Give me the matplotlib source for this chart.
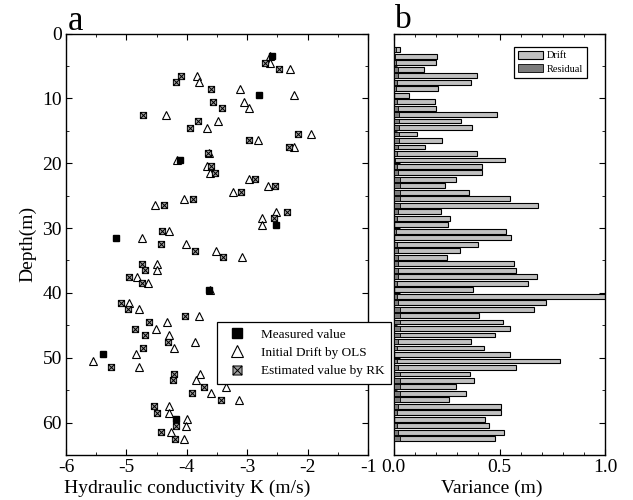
import matplotlib
matplotlib.use("Agg")
import matplotlib.pyplot as plt
import numpy as np
from matplotlib.path import Path
from matplotlib.ticker import MultipleLocator

plt.rcParams['font.family'] = ['Liberation Serif', 'DejaVu Serif']
plt.rcParams['axes.unicode_minus'] = False

# panel a: measured K, OLS drift and RK estimate vs depth
measured_depth = [3.5, 9.5, 19.5, 29.5, 31.5, 39.5, 49.5, 59.5]
measured_k = [-2.59, -2.80, -4.12, -2.53, -5.18, -3.63, -5.39, -4.18]

drift_depth = [3.5, 4.5, 5.5, 6.5, 7.5, 8.5, 9.5, 10.5, 11.5, 12.5, 13.5, 14.5, 15.5,
               16.5, 17.5, 18.5, 19.5, 20.5, 21.5, 22.5, 23.5, 24.5, 25.5, 26.5, 27.5,
               28.5, 29.5, 30.5, 31.5, 32.5, 33.5, 34.5, 35.5, 36.5, 37.5, 38.5, 39.5,
               41.5, 42.5, 43.5, 44.5, 45.5, 46.5, 47.5, 48.5, 49.5, 50.5, 51.5, 52.5,
               53.5, 54.5, 55.5, 56.5, 57.5, 58.5, 59.5, 60.5, 61.5, 62.5]
drift_k = [-2.63, -2.63, -2.30, -3.83, -3.80, -3.12, -2.22, -3.05, -2.97, -4.34, -3.49, -3.67, -1.95,
           -2.82, -2.22, -3.63, -4.17, -3.67, -3.62, -2.97, -2.65, -3.24, -4.04, -4.53, -2.52,
           -2.76, -2.76, -4.29, -4.75, -4.02, -3.52, -3.09, -4.50, -4.50, -4.82, -4.64, -3.61,
           -4.96, -4.79, -3.80, -4.33, -4.51, -4.29, -3.86, -4.22, -4.84, -5.56, -4.79, -3.79,
           -3.85, -3.35, -3.60, -3.14, -4.30, -4.29, -3.99, -4.01, -4.27, -4.05]

rk_depth = [4.5, 5.5, 6.5, 7.5, 8.5, 10.5, 11.5, 12.5, 13.5, 14.5, 15.5, 16.5, 17.5, 18.5,
            20.5, 21.5, 22.5, 23.5, 24.5, 25.5, 26.5, 27.5, 28.5, 30.5, 32.5, 33.5, 34.5,
            35.5, 36.5, 37.5, 38.5, 41.5, 42.5, 43.5, 44.5, 45.5, 46.5, 47.5, 48.5, 51.5,
            52.5, 53.5, 54.5, 55.5, 56.5, 57.5, 58.5, 60.5, 61.5, 62.5]
rk_k = [-2.70, -2.47, -4.09, -4.18, -3.60, -3.56, -3.42, -4.73, -3.82, -3.94, -2.16, -2.97, -2.31, -3.65,
        -3.60, -3.53, -2.87, -2.54, -3.11, -3.90, -4.37, -2.34, -2.56, -4.41, -4.42, -3.86, -3.40,
        -4.75, -4.69, -4.96, -4.74, -5.09, -4.98, -4.03, -4.63, -4.85, -4.69, -4.31, -4.73, -5.26,
        -4.22, -4.23, -3.71, -3.92, -3.43, -4.54, -4.50, -4.18, -4.43, -4.20]

# panel b: variance of drift and residual per depth
bar_depth = [2.5, 3.5, 4.5, 5.5, 6.5, 7.5, 8.5, 9.5, 10.5, 11.5, 12.5, 13.5, 14.5, 15.5, 16.5,
             17.5, 18.5, 19.5, 20.5, 21.5, 22.5, 23.5, 24.5, 25.5, 26.5, 27.5, 28.5, 29.5, 30.5,
             31.5, 32.5, 33.5, 34.5, 35.5, 36.5, 37.5, 38.5, 39.5, 40.5, 41.5, 42.5, 43.5, 44.5,
             45.5, 46.5, 47.5, 48.5, 49.5, 50.5, 51.5, 52.5, 53.5, 54.5, 55.5, 56.5, 57.5, 58.5,
             59.5, 60.5, 61.5, 62.5]
drift_var = [0.028, 0.205, 0.198, 0.143, 0.392, 0.365, 0.211, 0.071, 0.194, 0.200,
             0.490, 0.320, 0.370, 0.112, 0.230, 0.148, 0.395, 0.525, 0.419, 0.419,
             0.294, 0.244, 0.357, 0.548, 0.683, 0.225, 0.265, 0.258, 0.529, 0.554,
             0.400, 0.313, 0.250, 0.570, 0.580, 0.677, 0.636, 0.375, 1.020, 0.721,
             0.662, 0.403, 0.518, 0.551, 0.480, 0.364, 0.427, 0.551, 0.786, 0.580,
             0.359, 0.380, 0.293, 0.343, 0.261, 0.509, 0.509, 0.433, 0.449, 0.523, 0.477]
resid_var = [0.012, 0.005, 0.010, 0.020, 0.020, 0.015, 0.010, 0.000, 0.015, 0.020,
             0.025, 0.025, 0.025, 0.025, 0.025, 0.020, 0.015, 0.005, 0.015, 0.020,
             0.028, 0.028, 0.028, 0.028, 0.028, 0.020, 0.015, 0.000, 0.010, 0.000,
             0.015, 0.020, 0.022, 0.022, 0.022, 0.018, 0.015, 0.000, 0.015, 0.020,
             0.028, 0.028, 0.028, 0.028, 0.028, 0.020, 0.015, 0.000, 0.015, 0.020,
             0.028, 0.028, 0.028, 0.028, 0.028, 0.020, 0.015, 0.000, 0.015, 0.020, 0.030]

# square with an X inside
box_x = Path([(-1, -1), (1, -1), (1, 1), (-1, 1), (-1, -1), (-1, -1), (1, 1), (-1, 1), (1, -1)],
             [Path.MOVETO, Path.LINETO, Path.LINETO, Path.LINETO, Path.CLOSEPOLY,
              Path.MOVETO, Path.LINETO, Path.MOVETO, Path.LINETO])

fig = plt.figure(figsize=(6.33, 5), dpi=100)
ax1 = fig.add_axes([0.1043, 0.09, 0.4771, 0.843])
ax2 = fig.add_axes([0.622, 0.09, 0.3343, 0.843])

ax1.plot(measured_k, measured_depth, 's', color='black', ms=5, zorder=4, label='Measured value')
ax1.plot(drift_k, drift_depth, '^', mfc='white', mec='black', mew=0.8, ms=5.5, zorder=2,
         label='Initial Drift by OLS')
ax1.plot(rk_k, rk_depth, marker=box_x, ls='none', mfc='#a0a0a0', mec='black', mew=0.7, ms=4.5,
         zorder=3, label='Estimated value by RK')

ax1.set_xlim(-6, -1)
ax1.set_ylim(65, 0)
ax1.xaxis.set_major_locator(MultipleLocator(1))
ax1.xaxis.set_minor_locator(MultipleLocator(0.5))
ax1.yaxis.set_major_locator(MultipleLocator(10))
ax1.yaxis.set_minor_locator(MultipleLocator(5))
ax1.set_xlabel('Hydraulic conductivity K (m/s)', fontsize=14)
ax1.xaxis.set_label_coords(0.402, -0.058, transform=ax1.transAxes)
ax1.xaxis.label.set_va('top')
ax1.set_ylabel('Depth(m)', fontsize=14, labelpad=4)
leg1 = ax1.legend(loc='upper left', bbox_to_anchor=(0.5, 0.3155), borderaxespad=0,
                  fontsize=9.5, markerscale=1.45, fancybox=False, framealpha=1,
                  edgecolor='black', handletextpad=0.8, borderpad=0.5, labelspacing=0.45)
leg1.get_frame().set_linewidth(0.9)
leg1.set_zorder(10)

ax2.barh(bar_depth, drift_var, height=0.75, color='#c0c0c0', edgecolor='black', linewidth=0.8,
         label='Drift', zorder=2)
ax2.barh(bar_depth, resid_var, height=0.75, color='#7a7a7a', edgecolor='black', linewidth=0.6,
         label='Residual', zorder=3)
ax2.set_xlim(0, 1)
ax2.set_ylim(65, 0)
ax2.xaxis.set_major_locator(MultipleLocator(0.5))
ax2.xaxis.set_minor_locator(MultipleLocator(0.1))
ax2.yaxis.set_major_locator(MultipleLocator(10))
ax2.yaxis.set_minor_locator(MultipleLocator(5))
ax2.set_yticklabels([])
ax2.set_xticks([0, 0.5, 1.0])
ax2.set_xticklabels(['0.0', '0.5', '1.0'])
ax2.set_xlabel('Variance (m)', fontsize=14)
ax2.xaxis.set_label_coords(0.465, -0.058, transform=ax2.transAxes)
ax2.xaxis.label.set_va('top')
leg2 = ax2.legend(loc='upper right', bbox_to_anchor=(0.9135, 0.9687), borderaxespad=0,
                  fontsize=7.5, fancybox=False, framealpha=1, edgecolor='black',
                  handlelength=2.4, handleheight=0.8, handletextpad=0.3, labelspacing=0.35)
leg2.get_frame().set_linewidth(0.9)

for ax in (ax1, ax2):
    ax.tick_params(which='both', direction='in', top=True, right=True, labelsize=14, pad=3)
    ax.tick_params(which='major', length=4.5, width=0.8)
    ax.tick_params(which='minor', length=2.5, width=0.6)
    for s in ax.spines.values():
        s.set_linewidth(1.0)

fig.text(68 / 633, 1 - 30 / 500, 'a', fontsize=25, va='baseline', ha='left')
fig.text(395 / 633, 1 - 28 / 500, 'b', fontsize=24, va='baseline', ha='left')

fig.savefig('out.png', dpi=100)
